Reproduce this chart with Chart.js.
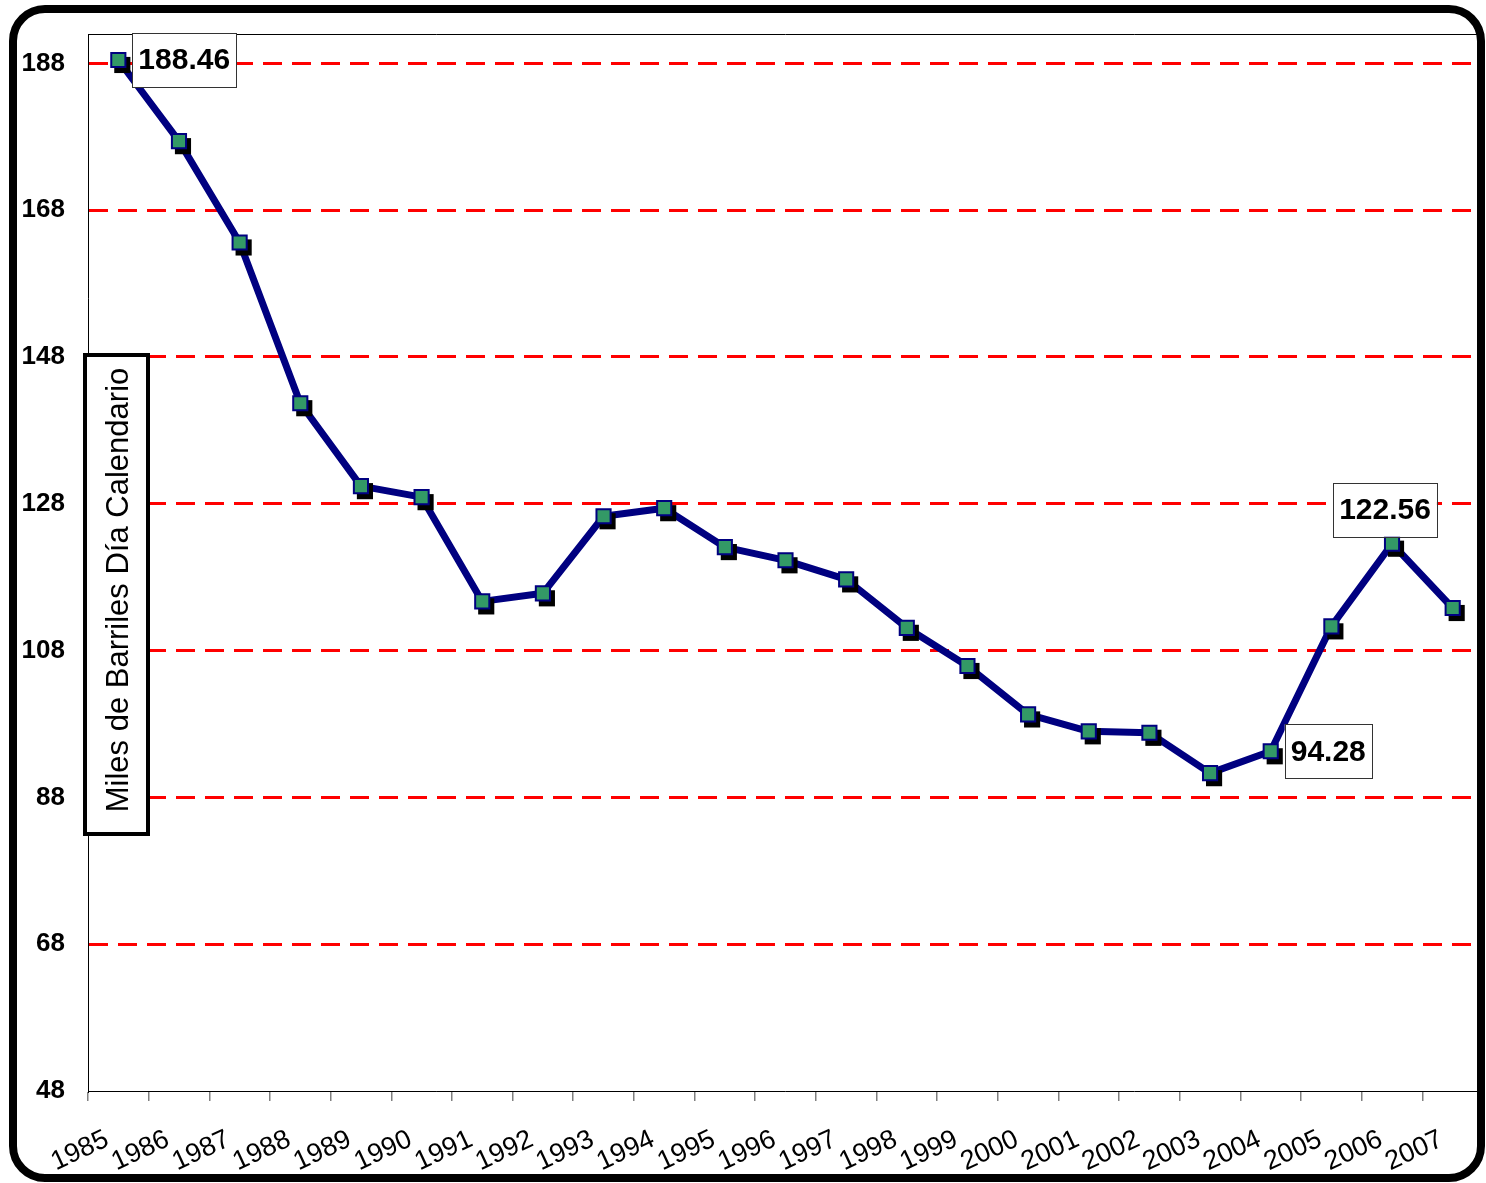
<!DOCTYPE html>
<html>
<head>
<meta charset="utf-8">
<title>Miles de Barriles Día Calendario</title>
<script src="https://cdn.jsdelivr.net/npm/chart.js@4.4.1/dist/chart.umd.min.js"></script>
<style>
  html, body { margin: 0; padding: 0; background: #fff; }
  #wrap { position: relative; width: 1486px; height: 1183px; overflow: hidden; }
  #chart { position: absolute; left: 0; top: 0; }
  /* rounded black frame round the whole chart */
  #frame {
    position: absolute; left: 9px; top: 5px;
    width: 1460px; height: 1161px;
    border: 8px solid #000; border-radius: 36px;
    pointer-events: none;
  }
</style>
</head>
<body>
<div id="wrap">
  <canvas id="chart" width="1486" height="1183"></canvas>
  <div id="frame"></div>
</div>
<script>
// ---- data ----
const years = ['1985', '1986', '1987', '1988', '1989', '1990', '1991', '1992', '1993', '1994', '1995', '1996',
               '1997', '1998', '1999', '2000', '2001', '2002', '2003', '2004', '2005', '2006', '2007'];
const barrels = [188.46, 177.4, 163.6, 141.7, 130.4, 128.9, 114.7, 115.8, 126.3, 127.4, 122.1, 120.3,
                 117.7, 111.1, 105.9, 99.3, 97.0, 96.8, 91.3, 94.28, 111.3, 122.56, 113.8];
const yTicks = [48, 68, 88, 108, 128, 148, 168, 188];
const yMin = 48;
const yMax = 192;
const axisTitle = 'Miles de Barriles Día Calendario';
// points that carry a value box, and where the box sits
const callouts = [
  { index: 0, side: 'right' },
  { index: 19, side: 'right' },
  { index: 21, side: 'top' }
];

const FONT = '"Liberation Sans", Arial, sans-serif';

const extras = {
  id: 'extras',
  beforeDatasetsDraw(chart) {
    const { ctx, chartArea: a } = chart;
    ctx.save();
    // thin top border of the plot area
    ctx.strokeStyle = '#000';
    ctx.lineWidth = 1;
    ctx.beginPath();
    ctx.moveTo(a.left, a.top + 0.5);
    ctx.lineTo(a.right, a.top + 0.5);
    ctx.stroke();

    // boxed y axis title, sitting inside the plot
    ctx.fillStyle = '#fff';
    ctx.fillRect(85, 355, 63, 479);
    ctx.lineWidth = 4;
    ctx.strokeRect(85, 355, 63, 479);
    ctx.translate(118, 590);
    ctx.rotate(-Math.PI / 2);
    ctx.fillStyle = '#000';
    ctx.font = '31px ' + FONT;
    ctx.textAlign = 'center';
    ctx.textBaseline = 'middle';
    ctx.fillText(axisTitle, 0, 1);
    ctx.restore();
  },
  // black drop shadow under each marker (not under the line)
  beforeDatasetDraw(chart, args) {
    if (args.index !== 0) return;
    const ctx = chart.ctx;
    const meta = chart.getDatasetMeta(0);
    ctx.save();
    ctx.fillStyle = '#000';
    meta.data.forEach(pt => {
      const s = pt.options.radius * Math.SQRT1_2 + 1;
      ctx.fillRect(pt.x - s + 4, pt.y - s + 5, 2 * s, 2 * s);
    });
    ctx.restore();
  },
  afterDraw(chart) {
    const ctx = chart.ctx;
    const xs = chart.scales.x;
    // slanted year labels under the category axis
    ctx.save();
    ctx.font = '27px ' + FONT;
    ctx.fillStyle = '#000';
    ctx.textAlign = 'right';
    ctx.textBaseline = 'alphabetic';
    years.forEach((yr, i) => {
      ctx.save();
      ctx.translate(xs.getPixelForTick(i) - 8, xs.top + 54);
      ctx.rotate(-25 * Math.PI / 180);
      ctx.fillText(yr, 0, 0);
      ctx.restore();
    });
    ctx.restore();
  },
  afterDatasetsDraw(chart) {
    const ctx = chart.ctx;
    const meta = chart.getDatasetMeta(0);
    ctx.save();
    ctx.font = 'bold 30px ' + FONT;
    ctx.textBaseline = 'middle';
    ctx.textAlign = 'center';
    callouts.forEach(c => {
      const pt = meta.data[c.index];
      const text = barrels[c.index].toFixed(2);
      const w = ctx.measureText(text).width + 12;
      const h = 54;
      let x, y;
      if (c.side === 'right') {
        x = pt.x + 14;
        y = pt.y - h / 2;
      } else {
        x = pt.x - 7 - w / 2;
        y = pt.y - 7 - h;
      }
      ctx.fillStyle = '#fff';
      ctx.fillRect(x, y, w, h);
      ctx.strokeStyle = '#333';
      ctx.lineWidth = 1;
      ctx.strokeRect(Math.round(x) + 0.5, Math.round(y) + 0.5, Math.round(w), h);
      ctx.fillStyle = '#000';
      ctx.fillText(text, x + w / 2, y + h / 2 + 1);
    });
    ctx.restore();
  }
};

new Chart(document.getElementById('chart'), {
  type: 'line',
  data: {
    labels: years,
    datasets: [
      {
        // markers
        data: barrels,
        showLine: false,
        pointStyle: 'rect',
        pointRadius: 10,
        pointBackgroundColor: '#339966',
        pointBorderColor: '#000080',
        pointBorderWidth: 2
      },
      {
        // connecting line
        data: barrels,
        borderColor: '#000080',
        borderWidth: 7,
        borderJoinStyle: 'round',
        pointRadius: 0,
        tension: 0
      }
    ]
  },
  options: {
    responsive: false,
    animation: false,
    events: [],
    layout: { autoPadding: false, padding: { left: 0, top: 34, right: 3, bottom: 0 } },
    plugins: {
      legend: { display: false },
      tooltip: { enabled: false }
    },
    scales: {
      x: {
        type: 'category',
        offset: true,
        grid: {
          offset: true,
          drawOnChartArea: false,
          drawTicks: true,
          tickLength: 10,
          color: '#808080',
          lineWidth: 1.5
        },
        border: { display: true, color: '#000', width: 1 },
        ticks: { display: false, autoSkip: false },
        afterFit(scale) {
          scale.height = 92;
          scale.paddingLeft = 0;
          scale.paddingRight = 0;
        }
      },
      y: {
        min: yMin,
        max: yMax,
        afterBuildTicks(scale) { scale.ticks = yTicks.map(v => ({ value: v })); },
        grid: {
          drawTicks: false,
          color: ctx => (ctx.tick && ctx.tick.value === yMin ? 'rgba(0,0,0,0)' : '#ff0000'),
          lineWidth: 3
        },
        border: { display: true, color: '#000', width: 1, dash: [19, 10] },
        ticks: {
          color: '#000',
          font: { family: FONT, size: 26, weight: 'bold' },
          padding: 23
        },
        afterFit(scale) {
          scale.width = 88;
          scale.paddingTop = 0;
          scale.paddingBottom = 0;
        }
      }
    }
  },
  plugins: [extras]
});
</script>
</body>
</html>
